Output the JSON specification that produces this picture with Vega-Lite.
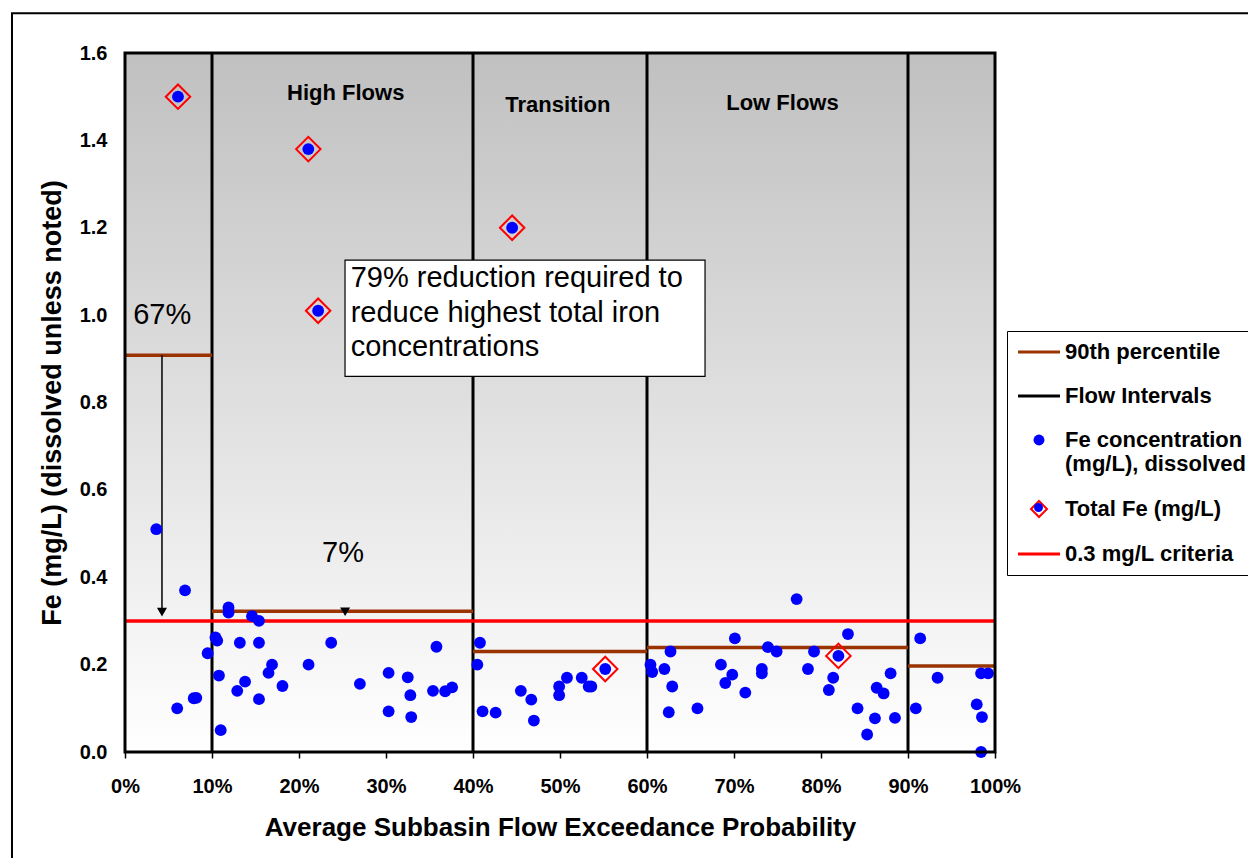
{
  "$schema": "https://vega.github.io/schema/vega-lite/v6.json",
  "width": 870,
  "height": 699,
  "autosize": {"type": "none"},
  "padding": {"left": 125, "top": 53, "right": 253, "bottom": 106},
  "background": "white",
  "config": {"view": {"stroke": null}, "font": "Liberation Sans"},
  "datasets": {
    "frame": [{"x": -12.99, "x2": 130, "y": 1.691, "y2": -0.3}],
    "bg": [{"x": 0, "x2": 100, "y": 0, "y2": 1.6}],
    "flow": [{"x": 10, "y": 0, "y2": 1.6}, {"x": 40, "y": 0, "y2": 1.6}, {"x": 60, "y": 0, "y2": 1.6}, {"x": 90, "y": 0, "y2": 1.6}],
    "p90": [{"x": 0, "x2": 10, "y": 0.908}, {"x": 10, "x2": 40, "y": 0.322}, {"x": 40, "x2": 60, "y": 0.23}, {"x": 60, "x2": 90, "y": 0.239}, {"x": 90, "x2": 100, "y": 0.197}],
    "crit": [{"x": 0, "x2": 100, "y": 0.3}],
    "arrow": [{"x": 4.25, "y": 0.908, "y2": 0.32}],
    "heads": [{"x": 4.25, "y": 0.32}, {"x": 25.3, "y": 0.321}],
    "box": [{"x": 25.29, "x2": 66.67, "y": 1.126, "y2": 0.86}],
    "boxtext": [
      {"x": 25.94, "y": 1.086, "text": "79% reduction required to"},
      {"x": 25.94, "y": 1.006, "text": "reduce highest total iron"},
      {"x": 25.94, "y": 0.926, "text": "concentrations"}
    ],
    "pct": [{"x": 4.27, "y": 1.0, "text": "67%"}, {"x": 25.06, "y": 0.455, "text": "7%"}],
    "zones": [{"x": 25.37, "y": 1.508, "text": "High Flows"}, {"x": 49.75, "y": 1.48, "text": "Transition"}, {"x": 75.57, "y": 1.486, "text": "Low Flows"}],
    "pts": [
      {"x": 3.6, "y": 0.51}, {"x": 6.9, "y": 0.37}, {"x": 6.0, "y": 0.1}, {"x": 7.9, "y": 0.123}, {"x": 8.2, "y": 0.124},
      {"x": 9.5, "y": 0.226}, {"x": 10.4, "y": 0.262}, {"x": 10.6, "y": 0.255}, {"x": 10.8, "y": 0.175}, {"x": 11.0, "y": 0.05},
      {"x": 11.9, "y": 0.331}, {"x": 11.9, "y": 0.319}, {"x": 13.2, "y": 0.25}, {"x": 12.9, "y": 0.14}, {"x": 13.8, "y": 0.161},
      {"x": 14.6, "y": 0.311}, {"x": 15.4, "y": 0.3}, {"x": 15.4, "y": 0.25}, {"x": 15.4, "y": 0.121}, {"x": 16.5, "y": 0.181},
      {"x": 16.9, "y": 0.2}, {"x": 18.1, "y": 0.151}, {"x": 21.1, "y": 0.2}, {"x": 23.7, "y": 0.25}, {"x": 27.0, "y": 0.156},
      {"x": 30.3, "y": 0.181}, {"x": 30.3, "y": 0.093}, {"x": 32.5, "y": 0.171}, {"x": 32.8, "y": 0.13}, {"x": 32.9, "y": 0.08},
      {"x": 35.8, "y": 0.241}, {"x": 35.4, "y": 0.14}, {"x": 36.8, "y": 0.139}, {"x": 37.6, "y": 0.148}, {"x": 40.8, "y": 0.25},
      {"x": 40.5, "y": 0.2}, {"x": 41.1, "y": 0.093}, {"x": 42.6, "y": 0.09}, {"x": 45.5, "y": 0.14}, {"x": 46.7, "y": 0.12},
      {"x": 47.0, "y": 0.072}, {"x": 49.9, "y": 0.15}, {"x": 49.9, "y": 0.13}, {"x": 50.8, "y": 0.17}, {"x": 52.5, "y": 0.17},
      {"x": 53.3, "y": 0.15}, {"x": 53.6, "y": 0.15}, {"x": 55.2, "y": 0.19}, {"x": 60.4, "y": 0.2}, {"x": 60.6, "y": 0.183},
      {"x": 62.0, "y": 0.19}, {"x": 62.7, "y": 0.23}, {"x": 62.9, "y": 0.15}, {"x": 62.5, "y": 0.091}, {"x": 65.8, "y": 0.1},
      {"x": 68.5, "y": 0.2}, {"x": 69.8, "y": 0.177}, {"x": 69.0, "y": 0.158}, {"x": 70.1, "y": 0.26}, {"x": 71.3, "y": 0.136},
      {"x": 73.2, "y": 0.19}, {"x": 73.2, "y": 0.18}, {"x": 73.9, "y": 0.24}, {"x": 74.9, "y": 0.23}, {"x": 77.2, "y": 0.35},
      {"x": 78.5, "y": 0.19}, {"x": 79.2, "y": 0.23}, {"x": 82.0, "y": 0.22}, {"x": 81.4, "y": 0.17}, {"x": 80.9, "y": 0.142},
      {"x": 83.1, "y": 0.27}, {"x": 84.2, "y": 0.1}, {"x": 85.3, "y": 0.04}, {"x": 86.4, "y": 0.147}, {"x": 87.2, "y": 0.134},
      {"x": 86.2, "y": 0.077}, {"x": 88.0, "y": 0.18}, {"x": 88.5, "y": 0.078}, {"x": 91.4, "y": 0.26}, {"x": 90.9, "y": 0.1},
      {"x": 93.4, "y": 0.17}, {"x": 97.9, "y": 0.109}, {"x": 98.5, "y": 0.08}, {"x": 98.4, "y": 0.18}, {"x": 99.2, "y": 0.18},
      {"x": 98.4, "y": 0.0}, {"x": 6.09, "y": 1.5}, {"x": 21.07, "y": 1.38}, {"x": 44.5, "y": 1.2}, {"x": 22.2, "y": 1.01}
    ],
    "tot": [{"x": 6.09, "y": 1.5}, {"x": 21.07, "y": 1.38}, {"x": 44.5, "y": 1.2}, {"x": 22.2, "y": 1.01}, {"x": 55.2, "y": 0.19}, {"x": 82.0, "y": 0.22}],
    "leg": [{"series": "90th percentile"}, {"series": "Flow Intervals"}, {"series": "Fe concentration (mg/L), dissolved"}, {"series": "Total Fe (mg/L)"}, {"series": "0.3 mg/L criteria"}],
    "dot": [{"k": "dot"}]
  },
  "layer": [
    {
      "data": {"name": "frame"},
      "mark": {"type": "rect", "fill": null, "stroke": "#000", "strokeWidth": 2, "clip": false},
      "encoding": {
        "x": {"field": "x", "type": "quantitative", "scale": {"domain": [0, 100], "nice": false, "zero": false},
          "axis": {"values": [0, 10, 20, 30, 40, 50, 60, 70, 80, 90, 100], "labelExpr": "datum.value + '%'", "title": "Average Subbasin Flow Exceedance Probability",
            "grid": false, "domain": false, "tickSize": 6, "tickWidth": 1.5, "tickColor": "#000", "labelFontSize": 20, "labelFontWeight": "bold", "labelColor": "#000",
            "labelPadding": 18, "titleFontSize": 26, "titleFontWeight": "bold", "titleColor": "#000", "titlePadding": 18, "labelFlush": false, "labelOverlap": false}},
        "x2": {"field": "x2"},
        "y": {"field": "y", "type": "quantitative", "scale": {"domain": [0, 1.6], "nice": false, "zero": false},
          "axis": {"values": [0, 0.2, 0.4, 0.6, 0.8, 1.0, 1.2, 1.4, 1.6], "format": ".1f", "title": "Fe (mg/L) (dissolved unless noted)",
            "grid": false, "domain": false, "ticks": false, "tickSize": 0, "labelFontSize": 20, "labelFontWeight": "bold", "labelColor": "#000",
            "labelPadding": 18, "titleFontSize": 27, "titleFontWeight": "bold", "titleColor": "#000", "titlePadding": 13, "labelFlush": false, "labelOverlap": false}},
        "y2": {"field": "y2"}
      }
    },
    {
      "data": {"name": "bg"},
      "mark": {"type": "rect", "fill": {"gradient": "linear", "x1": 0, "y1": 0, "x2": 0, "y2": 1, "stops": [{"offset": 0, "color": "#c0c0c0"}, {"offset": 1, "color": "#ffffff"}]}},
      "encoding": {
        "x": {"field": "x", "type": "quantitative", "scale": {"domain": [0, 100], "nice": false, "zero": false}},
        "x2": {"field": "x2"},
        "y": {"field": "y", "type": "quantitative", "scale": {"domain": [0, 1.6], "nice": false, "zero": false}},
        "y2": {"field": "y2"}
      }
    },
    {
      "data": {"name": "flow"},
      "mark": {"type": "rule", "color": "#000", "strokeWidth": 3},
      "encoding": {
        "x": {"field": "x", "type": "quantitative", "scale": {"domain": [0, 100], "nice": false, "zero": false}},
        "y": {"field": "y", "type": "quantitative", "scale": {"domain": [0, 1.6], "nice": false, "zero": false}},
        "y2": {"field": "y2"}
      }
    },
    {
      "data": {"name": "p90"},
      "mark": {"type": "rule", "color": "#993300", "strokeWidth": 3.5},
      "encoding": {
        "x": {"field": "x", "type": "quantitative", "scale": {"domain": [0, 100], "nice": false, "zero": false}},
        "x2": {"field": "x2"},
        "y": {"field": "y", "type": "quantitative", "scale": {"domain": [0, 1.6], "nice": false, "zero": false}}
      }
    },
    {
      "data": {"name": "crit"},
      "mark": {"type": "rule", "color": "#ff0000", "strokeWidth": 3.5},
      "encoding": {
        "x": {"field": "x", "type": "quantitative", "scale": {"domain": [0, 100], "nice": false, "zero": false}},
        "x2": {"field": "x2"},
        "y": {"field": "y", "type": "quantitative", "scale": {"domain": [0, 1.6], "nice": false, "zero": false}}
      }
    },
    {
      "data": {"name": "arrow"},
      "mark": {"type": "rule", "color": "#000", "strokeWidth": 1.5},
      "encoding": {
        "x": {"field": "x", "type": "quantitative", "scale": {"domain": [0, 100], "nice": false, "zero": false}},
        "y": {"field": "y", "type": "quantitative", "scale": {"domain": [0, 1.6], "nice": false, "zero": false}},
        "y2": {"field": "y2"}
      }
    },
    {
      "data": {"name": "heads"},
      "mark": {"type": "point", "shape": "triangle-down", "filled": true, "color": "#000", "size": 100, "opacity": 1},
      "encoding": {
        "x": {"field": "x", "type": "quantitative", "scale": {"domain": [0, 100], "nice": false, "zero": false}},
        "y": {"field": "y", "type": "quantitative", "scale": {"domain": [0, 1.6], "nice": false, "zero": false}}
      }
    },
    {
      "data": {"name": "box"},
      "mark": {"type": "rect", "fill": "#fff", "stroke": "#000", "strokeWidth": 1.2},
      "encoding": {
        "x": {"field": "x", "type": "quantitative", "scale": {"domain": [0, 100], "nice": false, "zero": false}},
        "x2": {"field": "x2"},
        "y": {"field": "y", "type": "quantitative", "scale": {"domain": [0, 1.6], "nice": false, "zero": false}},
        "y2": {"field": "y2"}
      }
    },
    {
      "data": {"name": "boxtext"},
      "mark": {"type": "text", "align": "left", "baseline": "middle", "fontSize": 29, "color": "#000", "font": "Liberation Sans"},
      "encoding": {
        "x": {"field": "x", "type": "quantitative", "scale": {"domain": [0, 100], "nice": false, "zero": false}},
        "y": {"field": "y", "type": "quantitative", "scale": {"domain": [0, 1.6], "nice": false, "zero": false}},
        "text": {"field": "text"}
      }
    },
    {
      "data": {"name": "pct"},
      "mark": {"type": "text", "align": "center", "baseline": "middle", "fontSize": 29, "color": "#000", "font": "Liberation Sans"},
      "encoding": {
        "x": {"field": "x", "type": "quantitative", "scale": {"domain": [0, 100], "nice": false, "zero": false}},
        "y": {"field": "y", "type": "quantitative", "scale": {"domain": [0, 1.6], "nice": false, "zero": false}},
        "text": {"field": "text"}
      }
    },
    {
      "data": {"name": "zones"},
      "mark": {"type": "text", "align": "center", "baseline": "middle", "fontSize": 22, "fontWeight": "bold", "color": "#000", "font": "Liberation Sans"},
      "encoding": {
        "x": {"field": "x", "type": "quantitative", "scale": {"domain": [0, 100], "nice": false, "zero": false}},
        "y": {"field": "y", "type": "quantitative", "scale": {"domain": [0, 1.6], "nice": false, "zero": false}},
        "text": {"field": "text"}
      }
    },
    {
      "data": {"name": "pts"},
      "mark": {"type": "point", "shape": "circle", "filled": true, "color": "#0000ff", "size": 140, "opacity": 1},
      "encoding": {
        "x": {"field": "x", "type": "quantitative", "scale": {"domain": [0, 100], "nice": false, "zero": false}},
        "y": {"field": "y", "type": "quantitative", "scale": {"domain": [0, 1.6], "nice": false, "zero": false}}
      }
    },
    {
      "data": {"name": "tot"},
      "mark": {"type": "point", "shape": "diamond", "filled": false, "color": "#ff0000", "strokeWidth": 2, "size": 600, "opacity": 1},
      "encoding": {
        "x": {"field": "x", "type": "quantitative", "scale": {"domain": [0, 100], "nice": false, "zero": false}},
        "y": {"field": "y", "type": "quantitative", "scale": {"domain": [0, 1.6], "nice": false, "zero": false}}
      }
    },
    {
      "data": {"name": "bg"},
      "mark": {"type": "rect", "fill": null, "stroke": "#000", "strokeWidth": 3},
      "encoding": {
        "x": {"field": "x", "type": "quantitative", "scale": {"domain": [0, 100], "nice": false, "zero": false}},
        "x2": {"field": "x2"},
        "y": {"field": "y", "type": "quantitative", "scale": {"domain": [0, 1.6], "nice": false, "zero": false}},
        "y2": {"field": "y2"}
      }
    },
    {
      "data": {"name": "leg"},
      "mark": {"type": "point", "filled": true, "opacity": 0},
      "encoding": {
        "fill": {
          "field": "series", "type": "nominal",
          "scale": {"domain": ["90th percentile", "Flow Intervals", "Fe concentration (mg/L), dissolved", "Total Fe (mg/L)", "0.3 mg/L criteria"],
            "range": ["transparent", "transparent", "#0000ff", "#ffffff", "transparent"]},
          "legend": {
            "title": null, "orient": "none", "legendX": 882, "legendY": 278, "zindex": 0,
            "strokeColor": "#000", "fillColor": "#fff", "padding": 10,
            "labelFont": "Liberation Sans", "labelFontSize": 22, "labelFontWeight": "bold", "labelColor": "#000", "labelLimit": 400,
            "symbolSize": 1764, "symbolOpacity": 1, "labelOffset": 15, "rowPadding": 22, "symbolOffset": 11,
            "labelExpr": "datum.label == 'Fe concentration (mg/L), dissolved' ? ['Fe concentration', '(mg/L), dissolved'] : datum.label",
            "encode": {
              "symbols": {
                "update": {
                  "opacity": {"value": 1},
                  "shape": {"signal": "indexof(['90th percentile', 'Flow Intervals', '0.3 mg/L criteria'], datum.value) >= 0 ? 'stroke' : (datum.value == 'Total Fe (mg/L)' ? 'diamond' : 'circle')"},
                  "size": {"signal": "indexof(['90th percentile', 'Flow Intervals', '0.3 mg/L criteria'], datum.value) >= 0 ? 1764 : (datum.value == 'Total Fe (mg/L)' ? 256 : 120)"},
                  "strokeWidth": {"signal": "indexof(['90th percentile', 'Flow Intervals', '0.3 mg/L criteria'], datum.value) >= 0 ? 3 : (datum.value == 'Total Fe (mg/L)' ? 2 : 0)"}
                }
              }
            }
          }
        },
        "stroke": {
          "field": "series", "type": "nominal",
          "scale": {"domain": ["90th percentile", "Flow Intervals", "Fe concentration (mg/L), dissolved", "Total Fe (mg/L)", "0.3 mg/L criteria"], "range": ["#993300", "#000000", "#0000ff", "#ff0000", "#ff0000"]},
          "legend": {
            "title": null, "orient": "none", "legendX": 882, "legendY": 278, "zindex": 0,
            "strokeColor": "#000", "fillColor": "#fff", "padding": 10,
            "labelFont": "Liberation Sans", "labelFontSize": 22, "labelFontWeight": "bold", "labelColor": "#000", "labelLimit": 400,
            "symbolSize": 1764, "symbolOpacity": 1, "labelOffset": 15, "rowPadding": 22, "symbolOffset": 11,
            "labelExpr": "datum.label == 'Fe concentration (mg/L), dissolved' ? ['Fe concentration', '(mg/L), dissolved'] : datum.label",
            "encode": {
              "symbols": {
                "update": {
                  "opacity": {"value": 1},
                  "shape": {"signal": "indexof(['90th percentile', 'Flow Intervals', '0.3 mg/L criteria'], datum.value) >= 0 ? 'stroke' : (datum.value == 'Total Fe (mg/L)' ? 'diamond' : 'circle')"},
                  "size": {"signal": "indexof(['90th percentile', 'Flow Intervals', '0.3 mg/L criteria'], datum.value) >= 0 ? 1764 : (datum.value == 'Total Fe (mg/L)' ? 256 : 120)"},
                  "strokeWidth": {"signal": "indexof(['90th percentile', 'Flow Intervals', '0.3 mg/L criteria'], datum.value) >= 0 ? 3 : (datum.value == 'Total Fe (mg/L)' ? 2 : 0)"}
                }
              }
            }
          }
        }
      }
    },
    {
      "data": {"name": "dot"},
      "mark": {"type": "point", "filled": true, "color": "#0000ff", "opacity": 0},
      "encoding": {
        "shape": {
          "field": "k", "type": "nominal",
          "scale": {"domain": ["dot"], "range": ["circle"]},
          "legend": {"title": null, "orient": "none", "legendX": 909, "legendY": 450, "zindex": 5, "padding": 0,
            "labelExpr": "''", "labelFontSize": 1, "symbolSize": 80, "symbolOpacity": 1, "symbolFillColor": "#0000ff", "symbolStrokeWidth": 0,
            "encode": {"symbols": {"update": {"opacity": {"value": 1}}}}}
        }
      }
    }
  ]
}
